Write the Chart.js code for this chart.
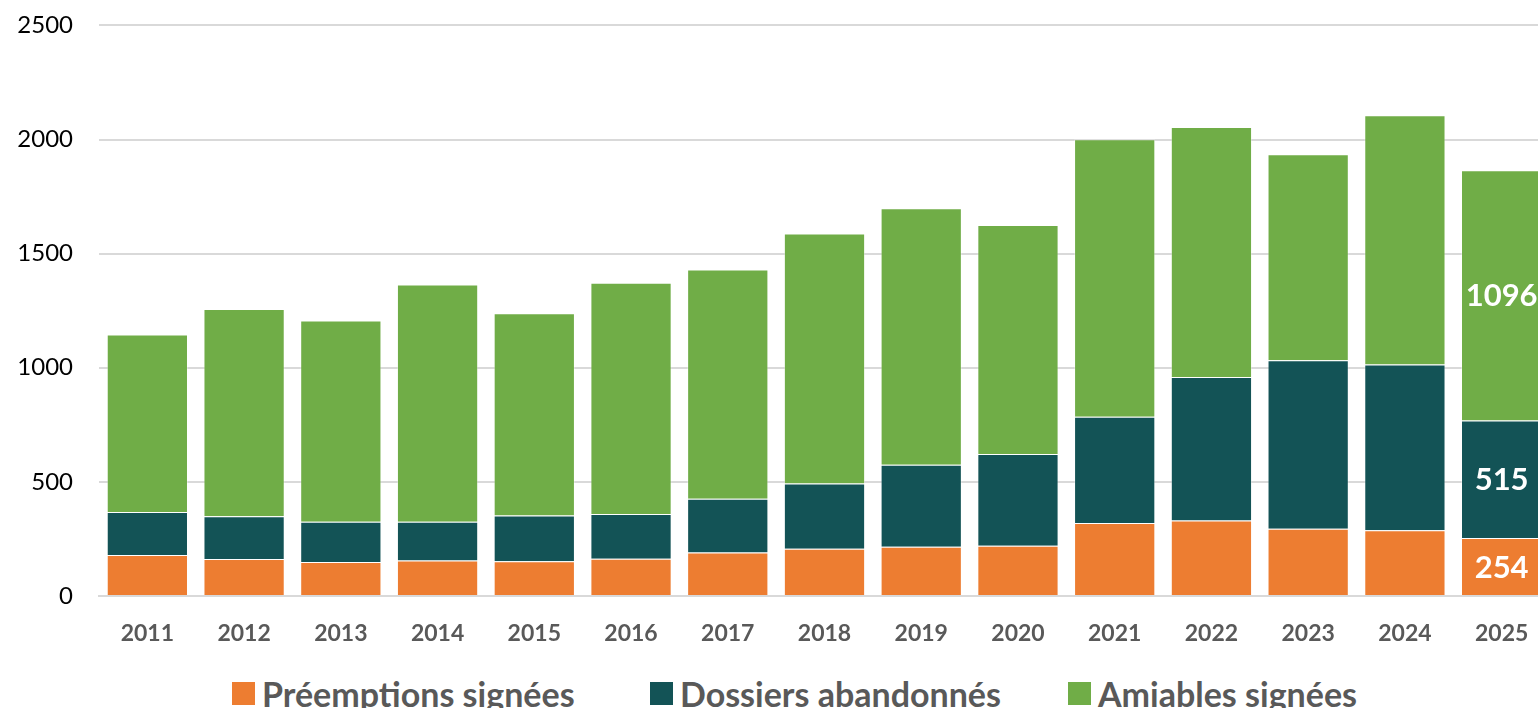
<!DOCTYPE html>
<html>
<head>
<meta charset="utf-8">
<script src="https://cdn.jsdelivr.net/npm/chart.js@4.4.1/dist/chart.umd.min.js"></script>
<style>
  html, body { margin: 0; padding: 0; background: #fff; overflow: hidden; }
  #wrap { width: 1538px; height: 708px; overflow: hidden; position: relative; }
  #box { width: 1550px; height: 661px; position: absolute; left: 0; top: -15px; }
  #legend { position: absolute; left: 232px; top: 675px; display: flex; white-space: nowrap;
            font-family: Lato, "Open Sans", sans-serif; font-weight: bold; font-size: 34px; color: #595959; }
  .item { display: flex; align-items: center; width: 418px; height: 36px; }
  .item:last-child { width: auto; }
  .swatch { width: 23px; height: 23px; margin-right: 7px; flex: none; }
</style>
</head>
<body>
<div id="wrap">
  <div id="box"><canvas id="chart"></canvas></div>
  <div id="legend"></div>
</div>
<script>
const YEARS = ['2011','2012','2013','2014','2015','2016','2017','2018','2019','2020','2021','2022','2023','2024','2025'];
const PREEMPTIONS = [180, 162, 149, 156, 152, 163, 191, 207, 216, 220, 320, 331, 295, 288, 254];
const ABANDONNES = [188, 187, 176, 169, 201, 196, 235, 286, 359, 402, 465, 629, 738, 726, 515];
const AMIABLES = [778, 908, 882, 1040, 886, 1013, 1004, 1095, 1124, 1004, 1216, 1095, 902, 1092, 1096];
const Y_TICKS = [0, 500, 1000, 1500, 2000, 2500];

const FONT = 'Lato, "Open Sans", sans-serif';

// values written only on the last bar, like the original
const lastBarLabels = {
    id: 'lastBarLabels',
    afterDatasetsDraw(chart) {
        const ctx = chart.ctx;
        const last = YEARS.length - 1;
        ctx.save();
        ctx.fillStyle = '#fff';
        ctx.font = 'bold 31px ' + FONT;
        ctx.textAlign = 'center';
        ctx.textBaseline = 'middle';
        chart.data.datasets.forEach((ds, i) => {
            const bar = chart.getDatasetMeta(i).data[last];
            if (!bar) return;
            const c = bar.getCenterPoint();
            ctx.fillText(String(ds.data[last]), c.x, c.y + 1);
        });
        ctx.restore();
    }
};

const chart = new Chart(document.getElementById('chart'), {
    type: 'bar',
    data: {
        labels: YEARS,
        datasets: [
            { label: 'Préemptions signées', data: PREEMPTIONS, backgroundColor: '#ED7D31' },
            { label: 'Dossiers abandonnés', data: ABANDONNES, backgroundColor: '#135356' },
            { label: 'Amiables signées', data: AMIABLES, backgroundColor: '#70AD47' }
        ]
    },
    options: {
        responsive: true, maintainAspectRatio: false, animation: false,
        datasets: { bar: { categoryPercentage: 0.84, barPercentage: 1, borderWidth: 1, borderColor: 'rgba(255,255,255,0.35)' } },
        layout: { autoPadding: false, padding: { top: 10, left: 18, right: 0, bottom: 0 } },
        plugins: { tooltip: { enabled: false }, legend: { display: false } },
        scales: {
            x: {
                stacked: true,
                grid: { display: false },
                border: { display: true, color: '#d9d9d9', width: 2 },
                ticks: { color: '#595959', padding: 16, maxRotation: 0, font: { family: FONT, size: 23, weight: 'bold' } },
                afterFit: axis => { axis.height = 50; }
            },
            y: {
                stacked: true, min: 0, max: 2500,
                afterBuildTicks: axis => { axis.ticks = Y_TICKS.map(v => ({ value: v })); },
                grid: { color: '#d9d9d9', lineWidth: 2, drawTicks: false },
                border: { display: false },
                ticks: { color: '#000', padding: 26, font: { family: FONT, size: 24 }, callback: v => String(v) },
                afterFit: axis => { axis.width = 81; }
            }
        }
    },
    plugins: [lastBarLabels]
});

// legend built from the datasets
document.getElementById('legend').innerHTML = chart.data.datasets.map(ds =>
    `<div class="item"><span class="swatch" style="background:${ds.backgroundColor}"></span>${ds.label}</div>`
).join('');
</script>
</body>
</html>
